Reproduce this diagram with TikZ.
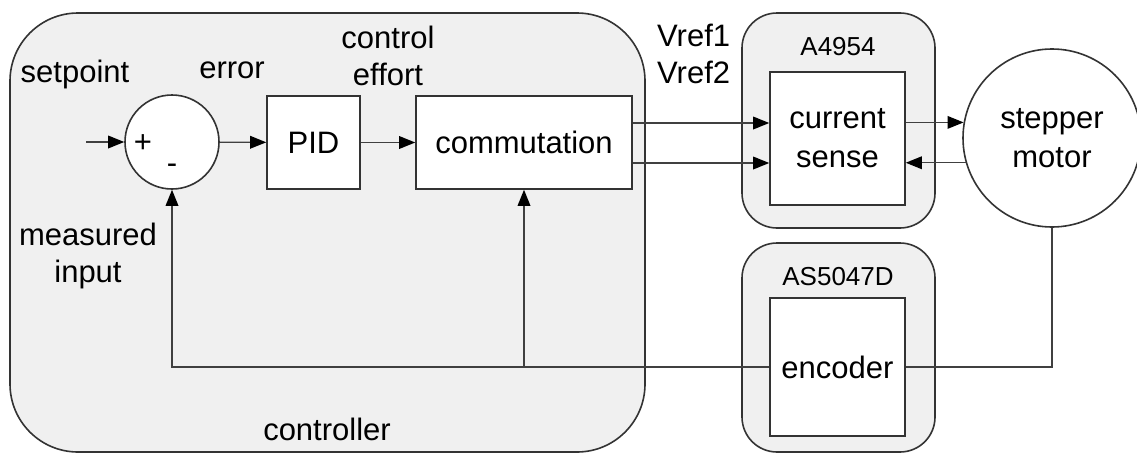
\documentclass[tikz,border=0pt]{standalone}
\usepackage{fontspec}
\setmainfont{Liberation Sans}
\usetikzlibrary{arrows.meta,calc}
\definecolor{panel}{gray}{0.94}
\definecolor{edge}{gray}{0.2}
\definecolor{wire}{gray}{0.25}
\begin{document}
\begin{tikzpicture}[x=1pt,y=-1pt,
  txt/.style={inner sep=0pt,font=\fontsize{31}{37}\selectfont,text=black},
  small/.style={inner sep=0pt,font=\fontsize{26}{30}\selectfont,text=black},
  chip/.style={draw=edge,fill=panel,line width=1.6pt,rectangle,inner sep=0pt},
  block/.style={draw=edge,fill=white,line width=1.6pt,rectangle,inner sep=0pt,
    font=\fontsize{31}{39}\selectfont,align=center},
  ring/.style={draw=edge,fill=white,line width=1.6pt,circle,inner sep=0pt,
    font=\fontsize{31}{39}\selectfont,align=center},
  wireline/.style={draw=wire,line width=1.2pt},
  arr/.style={wireline,-{Triangle[length=16pt,width=13pt,fill=black,line width=0pt]}}]
\useasboundingbox (0,0) rectangle (1137,455);

% grouping panels
\node[chip,rounded corners=68pt,minimum width=635pt,minimum height=439pt] (ctrl) at (327.5,232.5) {};
\node[chip,rounded corners=35pt,minimum width=193pt,minimum height=215pt] (drv) at (838.5,120.5) {};
\node[chip,rounded corners=35pt,minimum width=193pt,minimum height=209pt] (encchip) at (838.5,347.5) {};

% panel captions
\node[txt,anchor=base] (tctrl) at (327,440) {controller};
\node[small,anchor=base] (tdrv) at (838,55) {A4954};
\node[small,anchor=base] (tenc) at (838,285) {AS5047D};

% blocks
\node[ring,minimum size=94pt] (sum) at (172,142) {};
\node[block,minimum width=93pt,minimum height=93pt] (pid) at (313.5,142.5) {PID};
\node[block,minimum width=216pt,minimum height=93pt] (comm) at (524,142.5) {commutation};
\node[block,minimum width=135pt,minimum height=133pt] (cs) at (837.5,138.5) {current\\sense};
\node[block,minimum width=135pt,minimum height=138pt] (enc) at (837.5,367) {encoder};
\node[ring,minimum size=178pt] (motor) at (1052,138) {stepper\\motor};

% signs of the summing junction
\node[txt] (plus) at (143,144) {+};
\node[txt] (minus) at (172,169) {-};

% signal labels
\node[txt,anchor=base] (tsp) at (75,82) {setpoint};
\node[txt,anchor=base] (terr) at (232,78) {error};
\node[txt,align=center,anchor=north] (tce) at (388,25.5) {control\\effort};
\node[txt,align=left,anchor=north west] (tvref) at (657,24) {Vref1\\Vref2};
\node[txt,align=center,anchor=north] (tmi) at (88,222.5) {measured\\input};

% forward path
\coordinate (setin) at (86,142);
\draw[arr] (setin) -- (sum);
\draw[arr] (sum) -- (pid);
\draw[arr] (pid) -- (comm);
\draw[arr] ([yshift=19.5pt]comm.east) -- ([yshift=19.5pt]comm.east -| cs.west);
\draw[arr] ([yshift=-20.5pt]comm.east) -- ([yshift=-20.5pt]comm.east -| cs.west);
\draw[arr] (cs.east |- motor.170.3) -- (motor.170.3);
\draw[arr] (motor.196.3) -- (cs.east |- motor.196.3);

% feedback path
\coordinate (tap) at (enc.west -| comm.south);
\draw[wireline] (motor.south) |- (enc.east);
\draw[arr] (enc.west) -| (sum.south);
\draw[arr] (tap) -- (comm.south);
\end{tikzpicture}
\end{document}
